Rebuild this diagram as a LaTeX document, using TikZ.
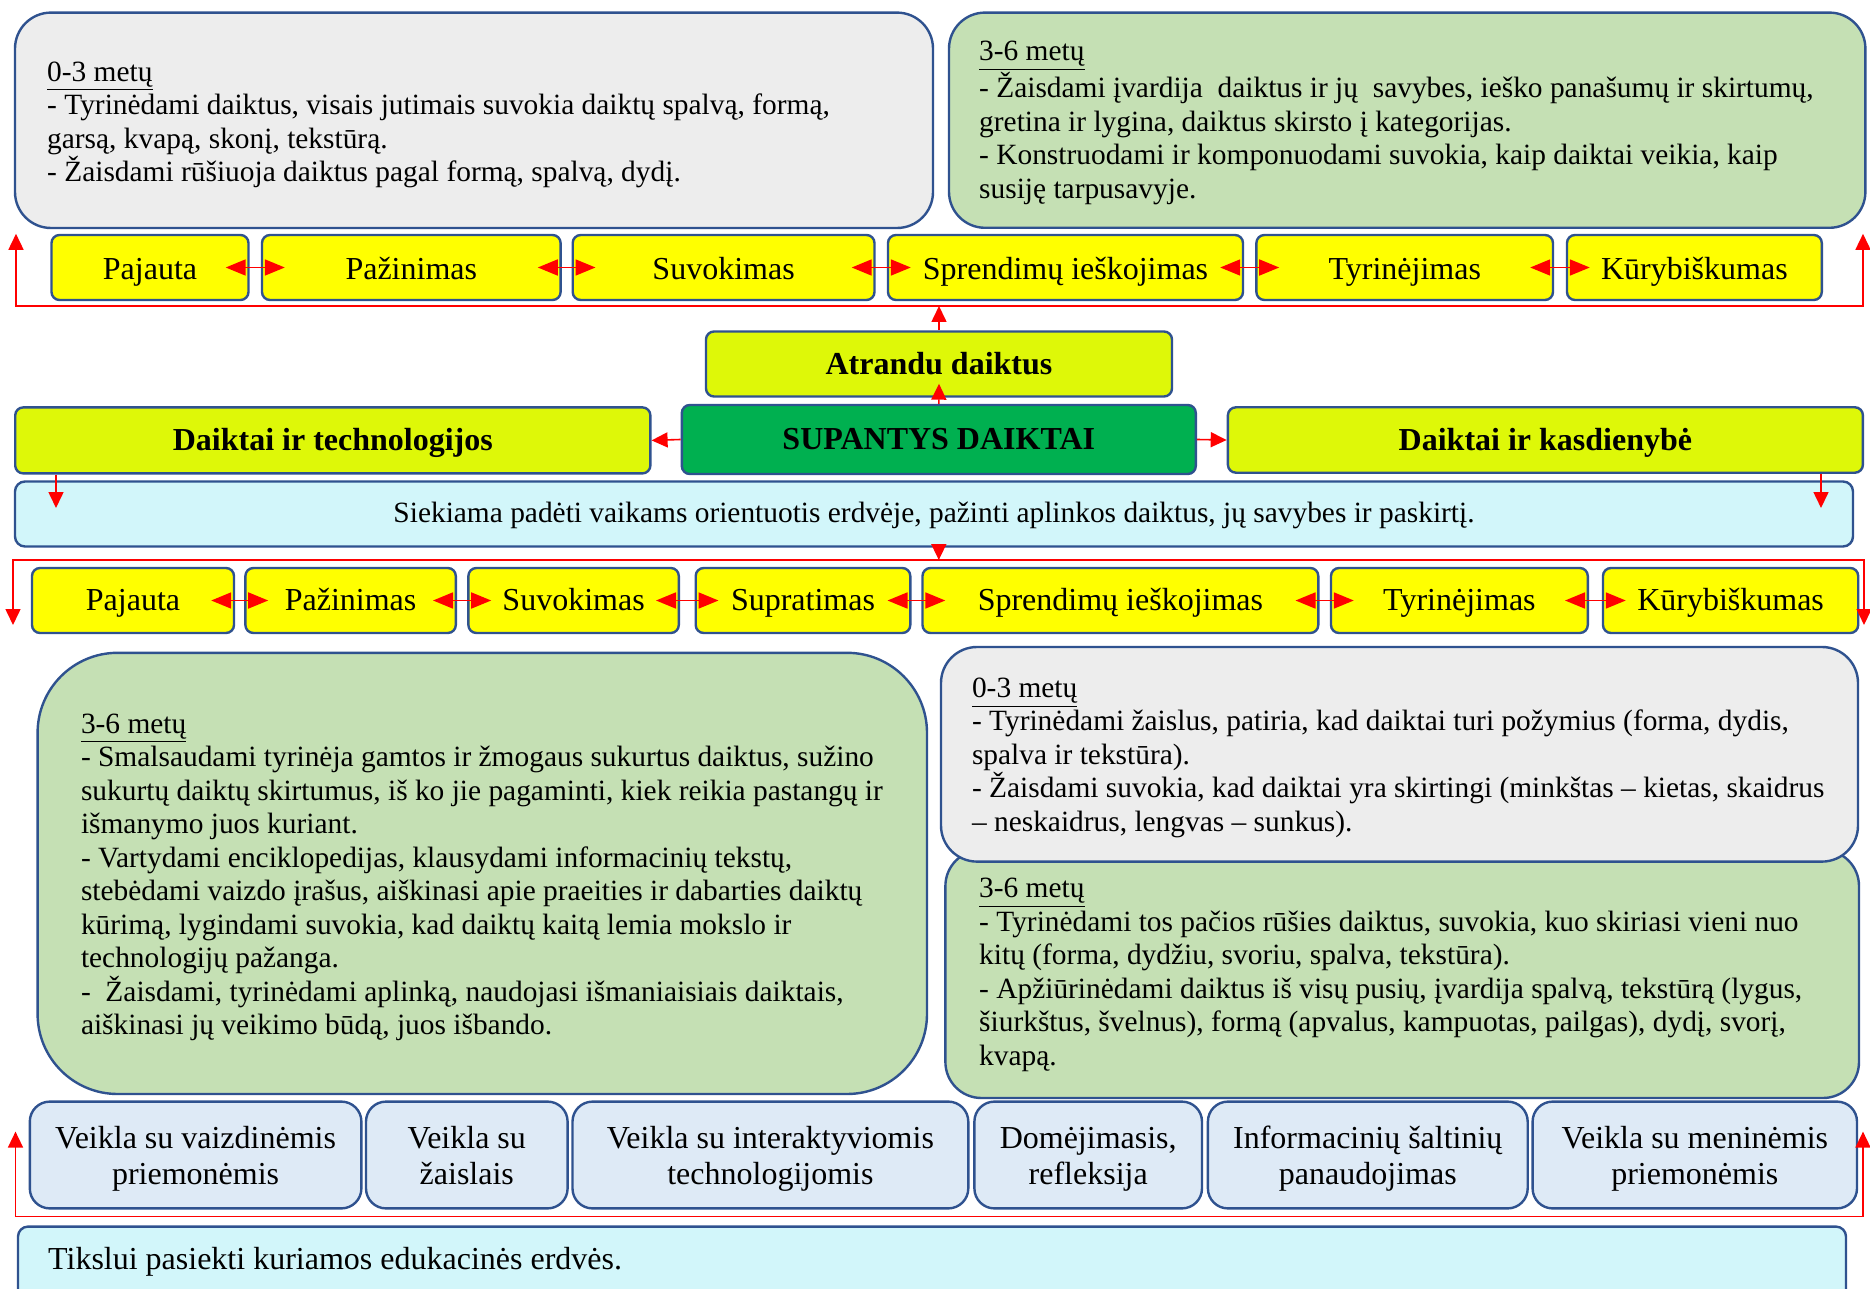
\documentclass[tikz,border=0pt]{standalone}
\usepackage{fontspec}
\setmainfont{Liberation Serif}
\usetikzlibrary{arrows.meta}

\definecolor{boxline}{HTML}{2F528F}
\definecolor{greyfill}{HTML}{EDEDED}
\definecolor{sagefill}{HTML}{C5E0B4}
\definecolor{stagefill}{HTML}{FFFF00}
\definecolor{themefill}{HTML}{DEF808}
\definecolor{corefill}{HTML}{00B050}
\definecolor{aimfill}{HTML}{D2F6FA}
\definecolor{actfill}{HTML}{DEEAF6}

% two lines of an activity box, with fixed first height and last depth
\newcommand{\twoline}[2]{\rule{0pt}{14.5pt}#1\\#2\rule[-3.5pt]{0pt}{0pt}}

\tikzset{
    card/.style={draw=boxline, line width=1.2pt, rounded corners=18pt, inner sep=0pt},
    note/.style={anchor=north west, inner sep=0pt, align=left, font=\fontsize{14.7}{16.75}\selectfont},
    stage/.style={draw=boxline, line width=1.2pt, fill=stagefill, rounded corners=4pt,
        minimum height=32.5pt, inner sep=0pt, text depth=3.5pt, font=\fontsize{16}{19}\selectfont},
    theme/.style={draw=boxline, line width=1.2pt, fill=themefill, rounded corners=4pt,
        inner sep=0pt, text height=13.9pt, text depth=3.5pt, font=\fontsize{16}{19}\selectfont\bfseries},
    aim/.style={draw=boxline, line width=1.2pt, fill=aimfill, rounded corners=5pt, inner sep=0pt},
    activity/.style={draw=boxline, line width=1.2pt, fill=actfill, rounded corners=10pt,
        minimum height=53.4pt, inner sep=0pt, align=center, font=\fontsize{16}{18}\selectfont},
    flow/.style={red, line width=0.8pt, -{Triangle[length=8pt,width=7.5pt]}},
    link/.style={red, line width=0.8pt, {Triangle[length=8pt,width=7.5pt]}-{Triangle[length=8pt,width=7.5pt]}},
    pair/.style={red, line width=0.9pt, {Triangle[length=10pt,width=8pt]}-{Triangle[length=10pt,width=8pt]}}
}

\begin{document}
\begin{tikzpicture}[x=1pt, y=-1pt]
    \useasboundingbox (0,0) rectangle (935,644.5);

    % upper age cards
    \node[card, fill=greyfill, minimum width=459pt, minimum height=107.7pt] (young1) at (237,60.15) {};
    \node[note] (young1t) at (23.4,30.6) {\underline{0-3 metų}\\
        - Tyrinėdami daiktus, visais jutimais suvokia daiktų spalvą, formą,\\
        garsą, kvapą, skonį, tekstūrą.\\
        - Žaisdami rūšiuoja daiktus pagal formą, spalvą, dydį.};
    \node[card, fill=sagefill, minimum width=458.2pt, minimum height=107.6pt] (older1) at (703.6,60.1) {};
    \node[note] (older1t) at (489.4,20.3) {\underline{3-6 metų}\\
        - Žaisdami įvardija\ \ daiktus ir jų\ \ savybes, ieško panašumų ir skirtumų,\\
        gretina ir lygina, daiktus skirsto į kategorijas.\\
        - Konstruodami ir komponuodami suvokia, kaip daiktai veikia, kaip\\
        susiję tarpusavyje.};

    % upper stages
    \node[stage, text height=16pt, minimum width=98.5pt] (a1) at (75,133.75) {Pajauta};
    \node[stage, text height=16pt, minimum width=149.3pt] (a2) at (205.65,133.75) {Pažinimas};
    \node[stage, text height=16pt, minimum width=150.9pt] (a3) at (361.8,133.75) {Suvokimas};
    \node[stage, text height=16pt, minimum width=177.5pt] (a4) at (532.75,133.75) {Sprendimų ieškojimas};
    \node[stage, text height=16pt, minimum width=148.3pt] (a5) at (702.35,133.75) {Tyrinėjimas};
    \node[stage, text height=16pt, minimum width=127.4pt] (a6) at (847.2,133.75) {Kūrybiškumas};

    % centre
    \node[theme, text height=14.3pt, minimum width=233pt, minimum height=32.5pt] (find) at (469.5,182) {Atrandu daiktus};
    \node[theme, fill=corefill, text height=9.6pt, text depth=0pt, minimum width=257pt, minimum height=34.5pt] (core) at (469.4,219.75) {SUPANTYS DAIKTAI};
    \node[theme, minimum width=317.6pt, minimum height=33pt] (tech) at (166.4,220.2) {Daiktai ir technologijos};
    \node[theme, minimum width=317.5pt, minimum height=32.7pt] (daily) at (772.7,220) {Daiktai ir kasdienybė};
    \node[aim, minimum width=919pt, minimum height=32.5pt, text height=11.8pt, text depth=3.3pt,
        font=\fontsize{14.7}{17}\selectfont] (goal) at (467,257)
        {Siekiama padėti vaikams orientuotis erdvėje, pažinti aplinkos daiktus, jų savybes ir paskirtį.};

    % lower stages
    \node[stage, text height=13.5pt, minimum width=101pt] (b1) at (66.5,300.25) {Pajauta};
    \node[stage, text height=13.5pt, minimum width=105.2pt] (b2) at (175.3,300.25) {Pažinimas};
    \node[stage, text height=13.5pt, minimum width=105.2pt] (b3) at (286.8,300.25) {Suvokimas};
    \node[stage, text height=13.5pt, minimum width=107.3pt] (b4) at (401.5,300.25) {Supratimas};
    \node[stage, text height=13.5pt, minimum width=197.9pt] (b5) at (560.2,300.25) {Sprendimų ieškojimas};
    \node[stage, text height=13.5pt, minimum width=128.4pt] (b6) at (729.7,300.25) {Tyrinėjimas};
    \node[stage, text height=13.5pt, minimum width=127.6pt] (b7) at (865.3,300.25) {Kūrybiškumas};

    % lower age cards
    \node[card, fill=sagefill, rounded corners=40pt, minimum width=444.7pt, minimum height=220.6pt] (older2) at (241.15,436.7) {};
    \node[note] (older2t) at (40.3,356.7) {\underline{3-6 metų}\\
        - Smalsaudami tyrinėja gamtos ir žmogaus sukurtus daiktus, sužino\\
        sukurtų daiktų skirtumus, iš ko jie pagaminti, kiek reikia pastangų ir\\
        išmanymo juos kuriant.\\
        - Vartydami enciklopedijas, klausydami informacinių tekstų,\\
        stebėdami vaizdo įrašus, aiškinasi apie praeities ir dabarties daiktų\\
        kūrimą, lygindami suvokia, kad daiktų kaitą lemia mokslo ir\\
        technologijų pažanga.\\
        -\ \ Žaisdami, tyrinėdami aplinką, naudojasi išmaniaisiais daiktais,\\
        aiškinasi jų veikimo būdą, juos išbando.};
    \node[card, fill=sagefill, minimum width=456.8pt, minimum height=124pt] (older3) at (701.1,487) {};
    \node[note] (older3t) at (489.4,439) {\underline{3-6 metų}\\
        - Tyrinėdami tos pačios rūšies daiktus, suvokia, kuo skiriasi vieni nuo\\
        kitų (forma, dydžiu, svoriu, spalva, tekstūra).\\
        - Apžiūrinėdami daiktus iš visų pusių, įvardija spalvą, tekstūrą (lygus,\\
        šiurkštus, švelnus), formą (apvalus, kampuotas, pailgas), dydį, svorį,\\
        kvapą.};
    \node[card, fill=greyfill, minimum width=458.5pt, minimum height=107.3pt] (young2) at (699.75,377.15) {};
    \node[note] (young2t) at (485.8,338.7) {\underline{0-3 metų}\\
        - Tyrinėdami žaislus, patiria, kad daiktai turi požymius (forma, dydis,\\
        spalva ir tekstūra).\\
        - Žaisdami suvokia, kad daiktai yra skirtingi (minkštas -- kietas, skaidrus\\
        -- neskaidrus, lengvas -- sunkus).};

    % activities
    \node[activity, minimum width=165.8pt] (c1) at (97.8,577.5) {\twoline{Veikla su vaizdinėmis}{priemonėmis}};
    \node[activity, minimum width=100.8pt] (c2) at (233.4,577.5) {\twoline{Veikla su}{žaislais}};
    \node[activity, minimum width=197.9pt] (c3) at (385.2,577.5) {\twoline{Veikla su interaktyviomis}{technologijomis}};
    \node[activity, minimum width=113.8pt] (c4) at (544.1,577.5) {\twoline{Domėjimasis,}{refleksija}};
    \node[activity, minimum width=159.9pt] (c5) at (683.9,577.5) {\twoline{Informacinių šaltinių}{panaudojimas}};
    \node[activity, minimum width=162.2pt] (c6) at (847.4,577.5) {\twoline{Veikla su meninėmis}{priemonėmis}};

    \node[aim, minimum width=914pt, minimum height=60pt] (target) at (466,643.3) {};
    \node[anchor=base west, inner sep=0pt, font=\fontsize{16}{19}\selectfont] (targett) at (23.9,634.5)
        {Tikslui pasiekti kuriamos edukacinės erdvės.};

    % connectors
    \foreach \p/\q in {a1/a2, a2/a3, a3/a4, a4/a5, a5/a6, b1/b2, b2/b3, b3/b4, b4/b5, b5/b6, b6/b7}
        \draw[pair] ([xshift=-12pt]\p.east) -- ([xshift=12pt]\q.west);

    \coordinate (up1) at (8,153);
    \coordinate (up2) at (931.5,153);
    \draw[link] (up1 |- a1.north) -- (up1) -- (up2) -- (up2 |- a1.north);
    \draw[flow] (find.north) -- (find.north |- up1);
    \draw[flow] (core.north) -- ([yshift=7pt]find.south);
    \draw[flow] (core.west) -- (tech.east);
    \draw[flow] (core.east) -- (daily.west);

    \coordinate (dn1) at (28,254);
    \coordinate (dn2) at (910.5,254);
    \draw[flow] (dn1 |- tech.south) -- (dn1);
    \draw[flow] (dn2 |- daily.south) -- (dn2);

    \coordinate (lo1) at (6.5,280);
    \coordinate (lo2) at (932,280);
    \coordinate (lo1e) at (6.5,312.5);
    \coordinate (lo2e) at (932,312.5);
    \draw[flow] (core.south |- goal.south) -- (core.south |- lo1);
    \draw[link] (lo1e) -- (lo1) -- (lo2) -- (lo2e);

    \coordinate (bt1) at (7.75,608.3);
    \coordinate (bt2) at (931.5,608.3);
    \coordinate (bt1e) at (7.75,565.8);
    \coordinate (bt2e) at (931.5,565.8);
    \draw[link] (bt1e) -- (bt1) -- (bt2) -- (bt2e);
\end{tikzpicture}
\end{document}
